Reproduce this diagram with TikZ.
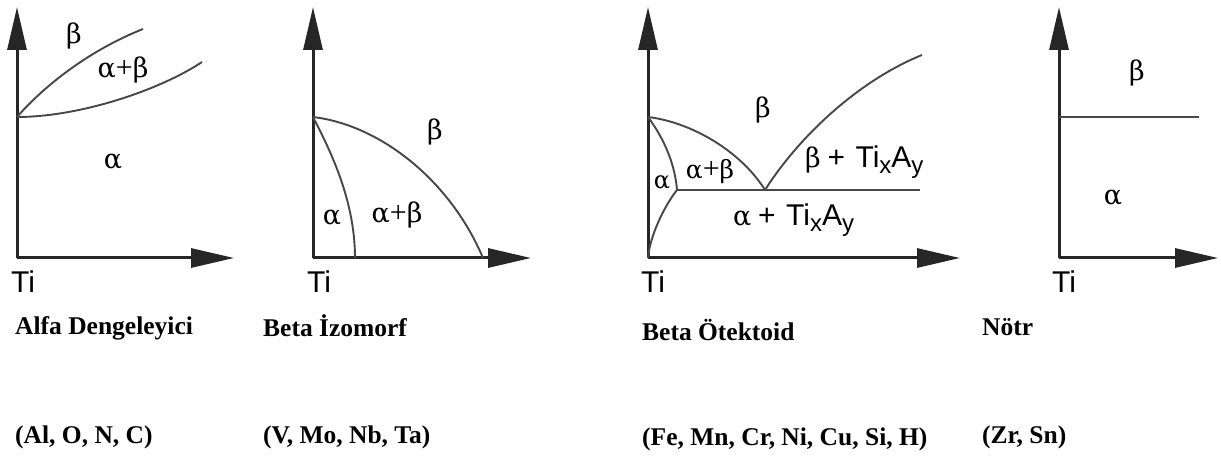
\documentclass[tikz,border=0pt]{standalone}
\usepackage{fontspec}
\setmainfont{Liberation Serif}
\newfontfamily\tisans{Liberation Sans}
\newfontfamily\grk{DejaVu Serif}
\usetikzlibrary{arrows.meta}
\newcommand{\subl}[1]{\raisebox{-0.22em}{\fontsize{24}{24}\selectfont #1}}
\newcommand{\txay}{{\tisans\fontsize{30}{32}\selectfont +\hspace{0.35em}Ti\subl{x}A\subl{y}}}
\newcommand{\ab}{α{\fontsize{30}{32}\selectfont\rmfamily +}β}
\tikzset{
  axis/.style={line width=3pt, draw=black!85, -{Triangle[length=43pt,width=19pt]}},
  phase/.style={line width=1.9pt, draw=black!72},
  greek/.style={font=\grk\fontsize{27}{34}\selectfont, inner sep=0pt},
  tilbl/.style={font=\tisans\fontsize{30}{32}\selectfont, inner sep=0pt},
  captxt/.style={font=\bfseries\fontsize{25.5}{30}\selectfont, anchor=base west, inner sep=0pt}
}
\begin{document}
\begin{tikzpicture}[x=1pt,y=-1pt]
\useasboundingbox[fill=white] (0,0) rectangle (1221,457);
% ---------- Panel 1 ----------
\coordinate (o1) at (17,258);
\coordinate (y1) at (17,7);
\coordinate (x1) at (234,258);
\coordinate (p1) at (17,117);
\coordinate (u1) at (143,29);
\coordinate (l1) at (202,62);
\draw[axis] (o1) -- (y1);
\draw[axis] (o1) -- (x1);
\draw[phase] (p1) .. controls (45,85) and (90,50) .. (u1);
\draw[phase] (p1) .. controls (80,117) and (160,90) .. (l1);
\node[greek] (b1) at (74,36) {β};
\node[greek] (ab1) at (123,70) {\ab};
\node[greek] (a1) at (113,162) {α};
\node[tilbl] (t1) at (23,282) {Ti};
% ---------- Panel 2 ----------
\coordinate (o2) at (313,258);
\coordinate (y2) at (313,7);
\coordinate (x2) at (531,258);
\coordinate (p2) at (313,117);
\coordinate (e2) at (483,258);
\coordinate (i2) at (355,258);
\draw[axis] (o2) -- (y2);
\draw[axis] (o2) -- (x2);
\draw[phase] (p2) .. controls (380,125) and (450,180) .. (e2);
\draw[phase] (p2) .. controls (330,150) and (355,200) .. (i2);
\node[greek] (b2) at (435,132) {β};
\node[greek] (a2) at (332,218) {α};
\node[greek] (ab2) at (397,215) {\ab};
\node[tilbl] (t2) at (319,282) {Ti};
% ---------- Panel 3 ----------
\coordinate (o3) at (648,258);
\coordinate (y3) at (648,7);
\coordinate (x3) at (960,258);
\coordinate (p3) at (648,117);
\coordinate (tp3) at (677,190);
\coordinate (ed3) at (765,190);
\coordinate (le3) at (920,190);
\coordinate (r3) at (922,55);
\draw[axis] (o3) -- (y3);
\draw[axis] (o3) -- (x3);
\draw[phase] (p3) .. controls (690,122) and (740,150) .. (ed3);
\draw[phase] (ed3) .. controls (800,135) and (860,80) .. (r3);
\draw[phase] (p3) .. controls (665,140) and (675,165) .. (tp3);
\draw[phase] (tp3) .. controls (665,205) and (650,235) .. (o3);
\draw[phase] (tp3) -- (le3);
\node[greek] (b3) at (763,110) {β};
\node[greek, font=\grk\fontsize{24}{30}\selectfont] (a3) at (662,183) {α};
\node[greek, font=\grk\fontsize{25}{30}\selectfont] (ab3) at (710,172) {\ab};
\node[greek, anchor=west] (bt3) at (805,162) {β\hspace{0.25em}\txay};
\node[greek, anchor=west] (at3) at (733,220) {α\hspace{0.25em}\txay};
\node[tilbl] (t3) at (653,282) {Ti};
% ---------- Panel 4 ----------
\coordinate (o4) at (1059,258);
\coordinate (y4) at (1059,7);
\coordinate (x4) at (1218,258);
\coordinate (h4a) at (1059,117);
\coordinate (h4b) at (1199,117);
\draw[axis] (o4) -- (y4);
\draw[axis] (o4) -- (x4);
\draw[phase] (h4a) -- (h4b);
\node[greek] (b4) at (1137,73) {β};
\node[greek] (a4) at (1113,198) {α};
\node[tilbl] (t4) at (1064,282) {Ti};
% ---------- Captions ----------
\node[captxt] (c1) at (15,334) {Alfa Dengeleyici};
\node[captxt] (d1) at (15,443) {(Al, O, N, C)};
\node[captxt] (c2) at (263,336) {Beta İzomorf};
\node[captxt] (d2) at (263,443) {(V, Mo, Nb, Ta)};
\node[captxt] (c3) at (642,340) {Beta Ötektoid};
\node[captxt] (d3) at (642,445) {(Fe, Mn, Cr, Ni, Cu, Si, H)};
\node[captxt] (c4) at (982,335) {Nötr};
\node[captxt] (d4) at (982,443) {(Zr, Sn)};
\end{tikzpicture}
\end{document}
